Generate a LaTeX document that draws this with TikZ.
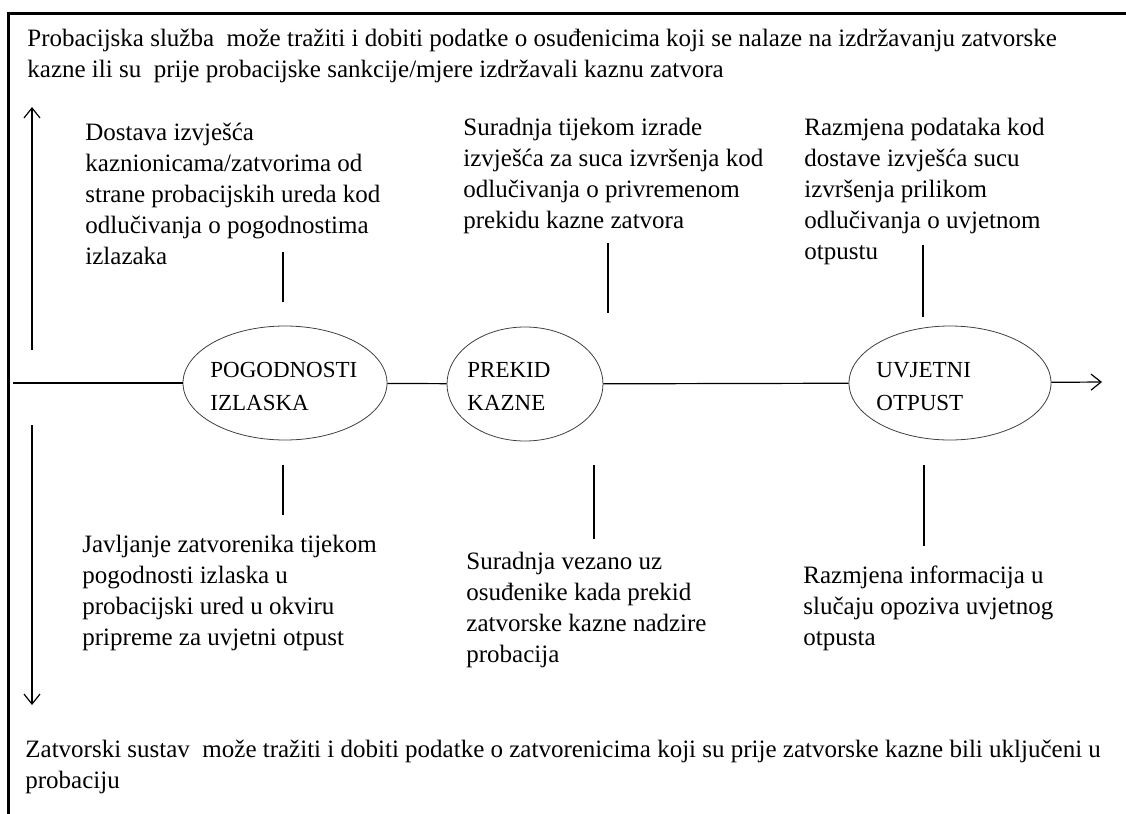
\documentclass[tikz,border=0pt]{standalone}
\usepackage{fontspec}
\setmainfont{Liberation Serif}
\usetikzlibrary{shapes.geometric,arrows.meta}

\begin{document}
\begin{tikzpicture}[x=0.5pt, y=-0.5pt,
      txt/.style={anchor=base west, align=left, inner sep=0pt,
                  font=\fontsize{12.5}{15.5}\selectfont},
      naziv/.style={txt, font=\fontsize{11.5}{16.5}\selectfont},
      stage/.style={ellipse, draw=black!75, line width=0.4pt,
                    minimum width=#1, minimum height=57pt, inner sep=0pt},
      line/.style={line width=0.6pt},
      >={Straight Barb[length=5pt,width=8pt]}]
      \useasboundingbox (0,0) rectangle (1126,814);
      \draw[line width=1.5pt] (1126,13.5) -- (8.5,13.5) -- (8.5,814);
      \node[stage=102pt] (izlazak) at (285,383) {};
      \node[stage=78pt] (prekid) at (525,384) {};
      \node[stage=101pt] (otpust) at (950,383) {};
      \node[naziv] (izlazakT) at (210,410) {POGODNOSTI\\IZLASKA};
      \node[naziv] (prekidT) at (467,410) {PREKID\\KAZNE};
      \node[naziv] (otpustT) at (876,410) {UVJETNI\\OTPUST};
      \coordinate (lijevo) at (13,383);
      \coordinate (desno) at (1102,382);
      \coordinate (gore1) at (32,350);
      \coordinate (gore2) at (32,107);
      \coordinate (dolje1) at (32,425);
      \coordinate (dolje2) at (32,705);
      \draw[line] (lijevo) -- (izlazak);
      \draw[line] (izlazak) -- (prekid);
      \draw[line] (prekid) -- (otpust);
      \draw[line, ->] (otpust) -- (desno);
      \draw[line, ->] (gore1) -- (gore2);
      \draw[line, ->] (dolje1) -- (dolje2);
      \foreach \x/\a/\b in {283/252/302, 608/243/313, 923/245/317,
                            283/465/515, 594/465/539, 924/465/546}
        \draw[line] (\x,\a) -- (\x,\b);
      \node[txt] (sluzba) at (27,77) {Probacijska služba~ može tražiti i dobiti podatke o osuđenicima koji se nalaze na izdržavanju zatvorske\\kazne ili su~ prije probacijske sankcije/mjere izdržavali kaznu zatvora};
      \node[txt] (dostava) at (85,264) {Dostava izvješća\\kaznionicama/zatvorima od\\strane probacijskih ureda kod\\odlučivanja o pogodnostima\\izlazaka};
      \node[txt] (izrada) at (463,228) {Suradnja tijekom izrade\\izvješća za suca izvršenja kod\\odlučivanja o privremenom\\prekidu kazne zatvora};
      \node[txt] (podaci) at (804,259) {Razmjena podataka kod\\dostave izvješća sucu\\izvršenja prilikom\\odlučivanja o uvjetnom\\otpustu};
      \node[txt] (javljanje) at (82,645) {Javljanje zatvorenika tijekom\\pogodnosti izlaska u\\probacijski ured u okviru\\pripreme za uvjetni otpust};
      \node[txt] (nadzor) at (466,662) {Suradnja vezano uz\\osuđenike kada prekid\\zatvorske kazne nadzire\\probacija};
      \node[txt] (opoziv) at (803,645) {Razmjena informacija u\\slučaju opoziva uvjetnog\\otpusta};
      \node[txt] (sustav) at (25,788) {Zatvorski sustav~ može tražiti i dobiti podatke o zatvorenicima koji su prije zatvorske kazne bili uključeni u\\probaciju};
\end{tikzpicture}
\end{document}
